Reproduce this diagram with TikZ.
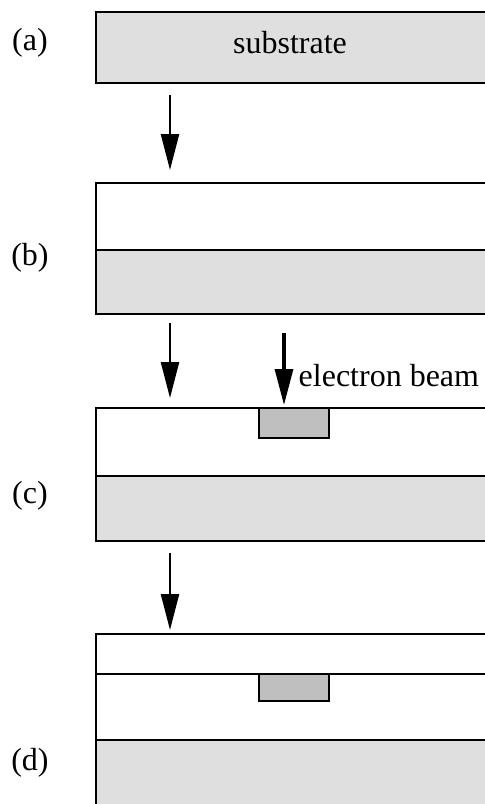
\documentclass[tikz,border=0pt]{standalone}
\usepackage{fontspec}
\setmainfont{Liberation Serif}
\usetikzlibrary{arrows.meta, positioning}

\begin{document}
\begin{tikzpicture}[x=0.75pt, y=-0.75pt,
    layer/.style={draw=black, line width=1.8pt},
    subst/.style={layer, fill=gray!25},
    resist/.style={layer, fill=white},
    dotbox/.style={layer, fill=gray!50},
    stepname/.style={font=\fontsize{24}{28}\selectfont},
    process/.style={-{Triangle[length=27pt, width=13.5pt]}, line width=1.8pt}]
    \useasboundingbox (0,0) rectangle (485,804);

    % (a) bare substrate
    \draw[subst] (96,12) rectangle (495,83);
    \node[stepname] (lbla) at (30,43) {(a)};
    \node[stepname] (subtext) at (290,43) {substrate};

    % (b) resist on substrate
    \draw[resist] (96,183) rectangle (495,250);
    \draw[subst] (96,250) rectangle (495,314);
    \node[stepname] (lblb) at (30,258) {(b)};

    % (c) exposed spot
    \draw[resist] (96,408) rectangle (495,476);
    \draw[subst] (96,476) rectangle (495,541);
    \draw[dotbox] (259,408) rectangle (329,438);
    \node[stepname] (lblc) at (30,496) {(c)};

    % (d) covered with a top layer
    \draw[resist] (96,634) rectangle (495,674);
    \draw[resist] (96,674) rectangle (495,740);
    \draw[subst] (96,740) rectangle (495,820);
    \draw[dotbox] (259,674) rectangle (329,701);
    \node[stepname] (lbld) at (30,763) {(d)};

    % Steps between the stages
    \coordinate (ab0) at (170,95);
    \coordinate (ab1) at (170,170);
    \draw[process] (ab0) -- (ab1);

    \coordinate (bc0) at (170,323);
    \coordinate (bc1) at (170,398);
    \draw[process] (bc0) -- (bc1);

    \coordinate (beam0) at (284,333);
    \coordinate (beam1) at (284,405);
    \draw[process, line width=2.4pt] (beam0) -- (beam1);
    \node[stepname, anchor=west] (ebeam) at (294,376) {electron beam};

    \coordinate (cd0) at (170,553);
    \coordinate (cd1) at (170,630);
    \draw[process] (cd0) -- (cd1);
\end{tikzpicture}
\end{document}
